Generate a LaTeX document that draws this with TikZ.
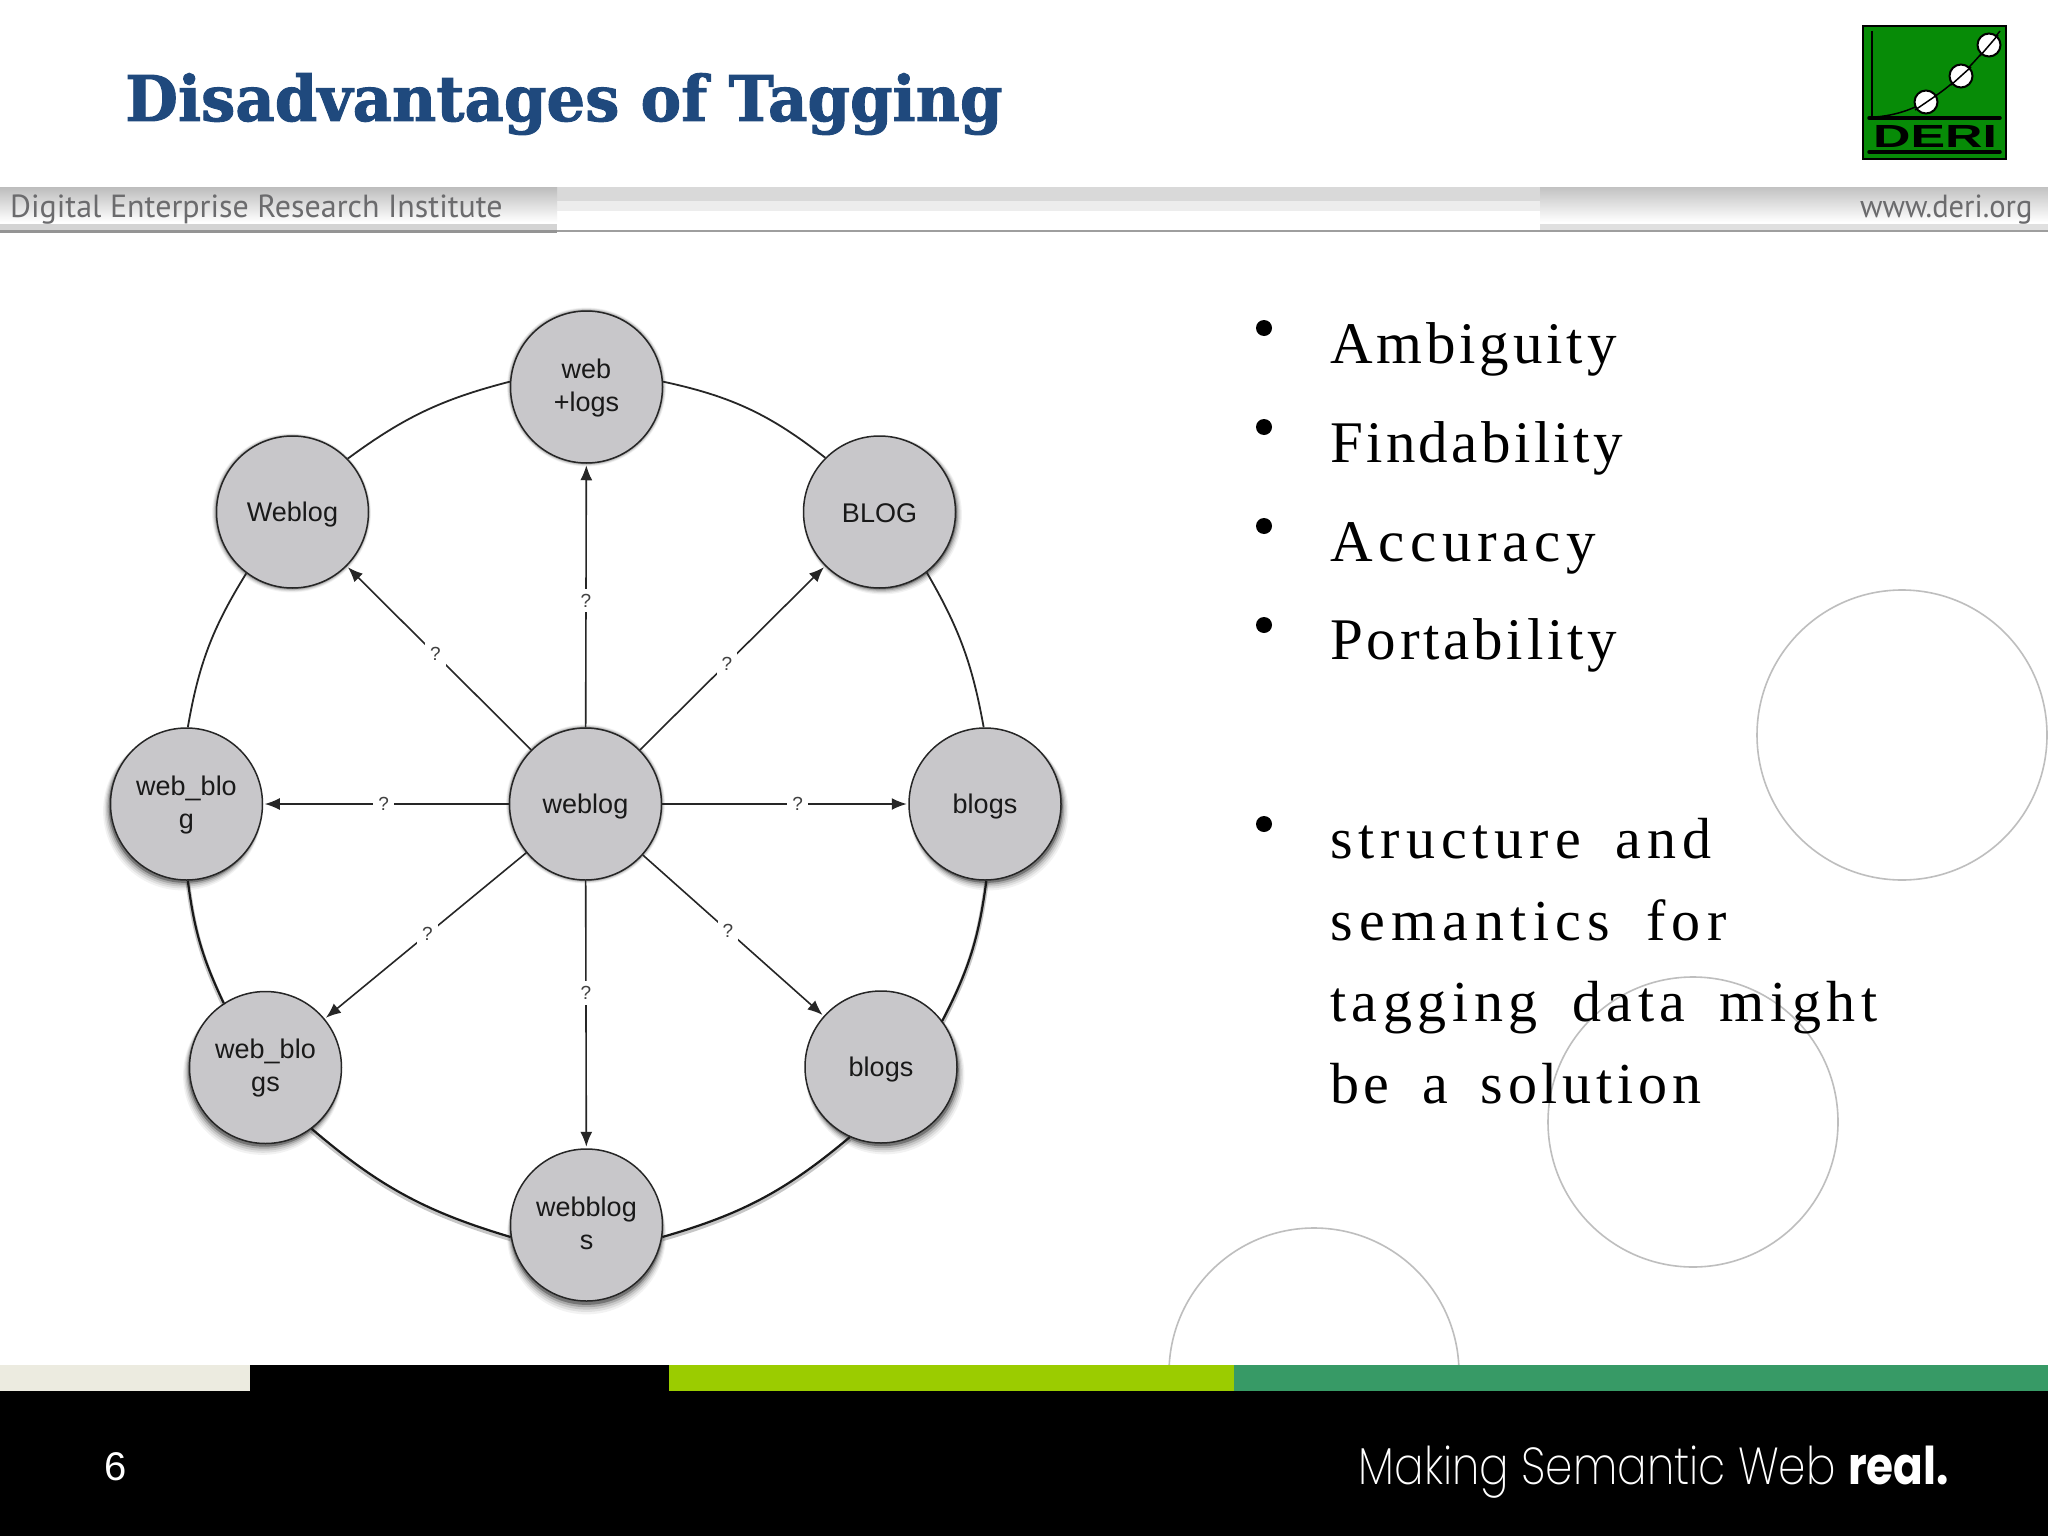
\documentclass[tikz,border=0pt]{standalone}
\usepackage{fontspec}
\setmainfont{Liberation Sans}
\newfontfamily\bulletfont{Liberation Serif}
\newfontfamily\lowerfont[WordSpace=1.7]{Liberation Serif}
\newfontfamily\titlefont{DejaVu Serif}
\newfontfamily\headfont{PT Sans}
\newfontfamily\footfont[UprightFont=* ExtraLight,BoldFont=* Bold]{Poppins}
\usetikzlibrary{arrows.meta,shadows,calc}
\definecolor{nodegray}{HTML}{C8C7CA}
\definecolor{titleblue}{HTML}{1F497D}
\definecolor{ringgray}{HTML}{BEBEBE}
\definecolor{bandcream}{HTML}{ECEBE0}
\definecolor{bandlime}{HTML}{9BCC00}
\definecolor{bandgreen}{HTML}{379A66}
\definecolor{logogreen}{HTML}{078B07}
\definecolor{headtext}{HTML}{6B6B6D}
\newcommand{\ls}[1]{\addfontfeature{LetterSpace=#1}}
\newcommand{\twolab}[2]{\makebox[0pt]{\raisebox{19pt}[0pt][0pt]{#1}}\makebox[0pt]{\raisebox{-14pt}[0pt][0pt]{#2}}}
\tikzset{
  softshadow/.style 2 args={
    general shadow={fill=black,opacity=.05,shadow xshift=#1*1.9pt,shadow yshift=#2*1.9pt,shadow scale=1.045},
    general shadow={fill=black,opacity=.07,shadow xshift=#1*1.6pt,shadow yshift=#2*1.6pt,shadow scale=1.035},
    general shadow={fill=black,opacity=.10,shadow xshift=#1*1.3pt,shadow yshift=#2*1.3pt,shadow scale=1.025},
    general shadow={fill=black,opacity=.16,shadow xshift=#1*1.0pt,shadow yshift=#2*1.0pt,shadow scale=1.015},
    general shadow={fill=black,opacity=.30,shadow xshift=#1*.7pt,shadow yshift=#2*.7pt,shadow scale=1.005}},
  term/.style={circle,draw=black!85,line width=1.5pt,fill=nodegray,minimum size=152pt,inner sep=0pt,
    font=\fontsize{27}{33}\selectfont,text=black!90,
    execute at begin node={\rule[-4pt]{0pt}{28pt}}},
  rim/.style={line width=1.8pt,black!85},
  rimheavy/.style={line width=2.2pt,black!90,preaction={draw,black,opacity=.22,line width=4.5pt,transform canvas={yshift=-2pt}}},
  link/.style={line width=1.6pt,black!85,shorten >=1.5pt,-{Latex[length=15pt,width=12pt]}},
  qmark/.style={fill=white,inner sep=5pt,text=black!75,font=\fontsize{19}{19}\selectfont},
  bulletdot/.style={circle,fill=black,inner sep=0pt,minimum size=16pt},
  itemtext/.style={anchor=base west,inner sep=0pt,text=black,
    font=\bulletfont\fontsize{59}{59}\selectfont},
  lowertext/.style={anchor=base west,inner sep=0pt,text=black,
    font=\lowerfont\fontsize{58}{58}\selectfont},
  ring/.style={draw=ringgray,line width=1.6pt},
  logoline/.style={line width=3.5pt,black,line cap=round},
  logoball/.style={circle,draw=black,line width=2pt,fill=white,minimum size=23pt,inner sep=0pt}
}
\begin{document}
\begin{tikzpicture}[x=1pt,y=-1pt]
\useasboundingbox (0,0) rectangle (2048,1536);
\fill[white] (0,0) rectangle (2048,1536);
\begin{scope}
\clip (0,0) rectangle (2048,1536);
\draw[ring] (1902,735) circle (145);
\draw[ring] (1693,1122) circle (145);
\draw[ring] (1314,1373) circle (145);
\end{scope}
% header bar
\fill[black!15] (0,187) rectangle (2048,201);
\fill[black!7] (0,201) rectangle (2048,211);
\fill[black!38] (0,230) rectangle (2048,232);
\shade[top color=black!26,bottom color=white] (0,187) rectangle (557,222);
\fill[black!17] (0,224) rectangle (557,230);
\fill[black!42] (0,230) rectangle (557,233);
\shade[top color=black!24,bottom color=white] (1540,187) rectangle (2048,222);
\fill[black!12] (1540,224) rectangle (2048,230);
\node[anchor=base west,inner sep=0pt,text=headtext,font=\headfont\fontsize{32}{32}\selectfont] (inst) at (10,217) {\scalebox{1.0}[1]{Digital Enterprise Research Institute}};
\node[anchor=base west,inner sep=0pt,text=headtext,font=\headfont\fontsize{32}{32}\selectfont] (site) at (1860,217) {\scalebox{0.955}[1]{www.deri.org}};
% title
\node[anchor=base west,inner sep=0pt,text=titleblue,font=\titlefont\bfseries\fontsize{63}{63}\selectfont\addfontfeature{FakeBold=1.5}] (title) at (125,121) {\scalebox{0.966}[1]{Disadvantages of Tagging}};
% logo
\fill[logogreen,draw=black,line width=1.5pt] (1863,26) rectangle (2006,159);
\draw[line width=1.5pt,black] (1872,31) -- (1872,117);
\draw[line width=1.5pt,black] (1875,117) .. controls (1930,113) and (1965,75) .. (2000,31);
\node[logoball] (ball1) at (1926,102) {};
\node[logoball] (ball2) at (1961,76) {};
\node[logoball] (ball3) at (1989,45) {};
\draw[line width=1.5pt,black] (1915,110) -- (1937,95);
\draw[line width=1.5pt,black] (1951,85) -- (1971,67);
\draw[line width=1.5pt,black] (1980,56) -- (1998,35);
\draw[logoline] (1869,118) -- (2000,118);
\draw[logoline] (1869,152) -- (2000,152);
\node[anchor=base,inner sep=0pt,text=black,font=\fontsize{32}{32}\selectfont] (deri) at (1935,147.5) {\scalebox{1.62}[1]{\textbf{DERI}}};
% nodes
\node[term,softshadow={0}{0}] (top) at (586.5,387) {\twolab{web}{+logs}};
\node[term,softshadow={-.5}{-.5}] (ul) at (292.5,512) {Weblog};
\node[term,softshadow={1.5}{-1.5}] (ur) at (879.5,512) {BLOG};
\node[term,softshadow={-2}{-3.5}] (l) at (186.5,804) {\twolab{web\_blo}{g}};
\node[term,softshadow={0}{0}] (c) at (585.5,804) {weblog};
\node[term,softshadow={2}{-3.5}] (r) at (985,804) {blogs};
\node[term,softshadow={-1.5}{-4}] (ll) at (265.5,1067.5) {\twolab{web\_blo}{gs}};
\node[term,softshadow={2}{-4}] (lr) at (881,1067) {blogs};
\node[term,softshadow={0}{-5}] (bot) at (586.5,1225) {\twolab{webblog}{s}};
% rim
\draw[rim] (top.4) to[bend left=13] (ur.135);
\draw[rim] (ur.-52) to[bend left=10] (r.91);
\draw[rimheavy] (r.-89) to[bend left=10] (lr.37);
\draw[rimheavy] (lr.246) to[bend left=12] (bot.-9);
\draw[rimheavy] (bot.189) to[bend left=12] (ll.-53);
\draw[rimheavy] (ll.123) to[bend left=9] (l.-89);
\draw[rim] (l.89) to[bend left=11] (ul.233);
\draw[rim] (ul.44) to[bend left=11] (top.176);
% links
\draw[link] (c) -- node[qmark,pos=.48] (q1) {?} (top);
\draw[link] (c) -- node[qmark,pos=.47] (q2) {?} (ur);
\draw[link] (c) -- node[qmark,pos=.55] (q3) {?} (r);
\draw[link] (c) -- node[qmark,pos=.47] (q4) {?} (lr);
\draw[link] (c) -- node[qmark,pos=.42] (q5) {?} (bot);
\draw[link] (c) -- node[qmark,pos=.49] (q6) {?} (ll);
\draw[link] (c) -- node[qmark,pos=.51] (q7) {?} (l);
\draw[link] (c) -- node[qmark,pos=.52] (q8) {?} (ul);
% bullets
\node[bulletdot] (b1) at (1264,328) {};
\node[bulletdot] (b2) at (1264,427) {};
\node[bulletdot] (b3) at (1264,526) {};
\node[bulletdot] (b4) at (1264,625) {};
\node[bulletdot] (b5) at (1264,824) {};
\node[itemtext] (t1) at (1330,363) {\ls{6.5}Ambiguity};
\node[itemtext] (t2) at (1330,462) {\ls{5.7}Findability};
\node[itemtext] (t3) at (1330,561) {\ls{9.7}Accuracy};
\node[itemtext] (t4) at (1330,659) {\ls{6.4}Portability};
\node[lowertext] (u1) at (1330,858) {\ls{10.3}structure and};
\node[lowertext] (u2) at (1330,940) {\ls{11.1}semantics for};
\node[lowertext] (u3) at (1330,1021) {\ls{9.7}tagging data might};
\node[lowertext] (u4) at (1330,1103) {\ls{8.2}be a solution};
% footer
\fill[bandcream] (0,1365) rectangle (250,1391);
\fill[black] (250,1365) rectangle (669,1391);
\fill[bandlime] (669,1365) rectangle (1234,1391);
\fill[bandgreen] (1234,1365) rectangle (2048,1391);
\fill[black] (0,1391) rectangle (2048,1536);
\node[anchor=base,inner sep=0pt,text=white,font=\fontsize{40}{40}\selectfont] (num) at (116,1480) {6};
\node[anchor=base east,inner sep=0pt,text=white,font=\footfont\fontsize{52}{52}\selectfont] (slogan) at (1949,1484) {\scalebox{0.842}[1]{Making Semantic Web \textbf{real.}}};
\end{tikzpicture}
\end{document}
